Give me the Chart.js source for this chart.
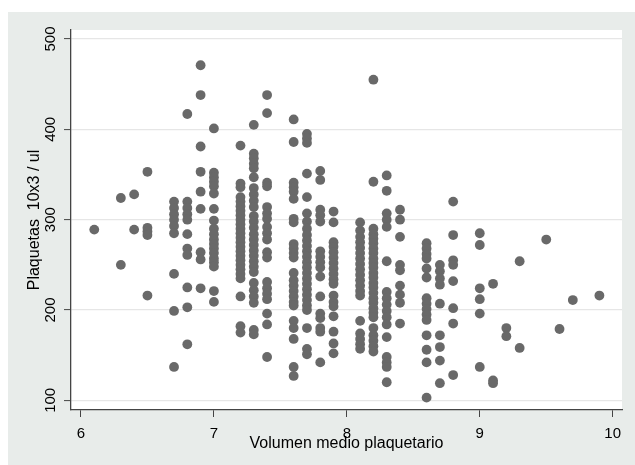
<!DOCTYPE html>
<html>
<head>
<meta charset="utf-8">
<script src="https://cdn.jsdelivr.net/npm/chart.js@4/dist/chart.umd.min.js"></script>
<style>
  html, body { margin: 0; padding: 0; background: #fff; }
  #wrap { position: absolute; left: 0; top: 0; width: 635px; height: 465px; }
</style>
</head>
<body>
<div id="wrap"><canvas id="chart" width="635" height="465"></canvas></div>
<script>
// Volumen medio plaquetario (x) and the platelet counts
const volumen = [6.1, 6.3, 6.4, 6.5, 6.7, 6.8, 6.9, 7.0, 7.2, 7.3, 7.4, 7.6, 7.7, 7.8, 7.9,
  8.1, 8.2, 8.3, 8.4, 8.6, 8.7, 8.8, 9.0, 9.1, 9.2, 9.3, 9.5, 9.6, 9.7, 9.9];
const plaquetas = [
  [289],
  [324, 250],
  [328, 289],
  [353, 291, 287, 283, 216],
  [320, 313, 306, 300, 293, 285, 240, 199, 137],
  [417, 320, 313, 306, 300, 284, 268, 261, 225, 203, 162],
  [471, 438, 381, 353, 331, 312, 264, 256, 224],
  [401, 352, 347, 342, 337, 329, 312, 299, 290, 284, 278, 273, 268, 263, 257, 253, 248, 221, 209],
  [382, 340, 336, 325, 320, 315, 310, 305, 300, 295, 290, 285, 280, 275, 270, 265, 260, 255, 250, 245, 240, 235, 215, 182, 175],
  [405, 373, 368, 362, 357, 347, 335, 328, 321, 314, 304, 298, 291, 284, 278, 272, 266, 260, 254, 248, 242, 230, 222, 215, 208, 178, 173],
  [438, 418, 341, 337, 314, 307, 301, 292, 285, 278, 264, 258, 231, 224, 218, 212, 196, 184, 148],
  [411, 386, 341, 336, 331, 323, 301, 297, 273, 268, 263, 258, 241, 233, 227, 221, 215, 209, 205, 188, 180, 168, 137, 127],
  [395, 390, 385, 351, 325, 307, 298, 290, 283, 277, 271, 265, 259, 253, 247, 241, 235, 229, 223, 217, 211, 205, 200, 180, 157, 151],
  [354, 344, 311, 305, 298, 265, 259, 253, 247, 237, 215, 196, 191, 180, 176, 142],
  [309, 297, 275, 270, 264, 258, 252, 246, 240, 234, 229, 216, 209, 204, 193, 176, 163, 152],
  [297, 288, 281, 275, 269, 263, 257, 251, 245, 239, 233, 227, 221, 216, 188, 174, 168, 162, 157],
  [455, 342, 290, 284, 279, 274, 268, 263, 257, 252, 247, 241, 236, 230, 225, 219, 213, 208, 202, 197, 192, 180, 172, 166, 160, 154],
  [349, 332, 307, 300, 292, 254, 220, 213, 206, 199, 192, 184, 170, 148, 142, 137, 120],
  [311, 300, 281, 250, 244, 227, 217, 208, 185],
  [274, 268, 262, 257, 246, 236, 213, 207, 201, 195, 189, 172, 156, 142, 103],
  [250, 243, 235, 228, 207, 172, 159, 144, 119],
  [320, 283, 255, 250, 232, 202, 185, 128],
  [285, 272, 224, 212, 196, 137],
  [229, 122, 119],
  [180, 171],
  [254, 158],
  [278],
  [179],
  [211],
  [216]
];
const xTicks = [6, 7, 8, 9, 10];
const yTicks = [100, 200, 300, 400, 500];

const points = [];
volumen.forEach((v, i) => plaquetas[i].forEach(p => points.push({ x: v, y: p })));

// grey outer region + white plot region (Stata look)
const background = {
  id: 'background',
  beforeDraw(chart) {
    const { ctx, chartArea: a } = chart;
    ctx.save();
    ctx.fillStyle = '#fff';
    ctx.fillRect(0, 0, chart.width, chart.height);
    ctx.fillStyle = '#e8ecea';
    ctx.fillRect(8, 12, chart.width - 8, chart.height - 12);
    ctx.fillStyle = '#fff';
    ctx.fillRect(a.left, a.top, a.right - a.left, a.bottom - a.top);
    ctx.restore();
  }
};

const font = { family: '"Liberation Sans", Arial, sans-serif', size: 15 };
const titleFont = { family: '"Liberation Sans", Arial, sans-serif', size: 16 };

new Chart(document.getElementById('chart'), {
  type: 'scatter',
  data: {
    datasets: [{
      data: points,
      backgroundColor: '#696969',
      borderWidth: 0,
      pointRadius: 4.9,
      pointHoverRadius: 4.9
    }]
  },
  options: {
    responsive: false,
    animation: false,
    layout: { padding: { top: 30, right: 13, left: 0, bottom: 0 } },
    plugins: { legend: { display: false }, tooltip: { enabled: false } },
    scales: {
      x: {
        type: 'linear',
        min: 5.925,
        max: 10.07,
        afterBuildTicks: s => { s.ticks = xTicks.map(v => ({ value: v })); },
        afterFit: s => { s.height = 55; },
        grid: { drawOnChartArea: false, tickLength: 7, tickColor: '#444', tickWidth: 1 },
        border: { color: '#444', width: 1.3 },
        ticks: { color: '#000', font, padding: 8, maxRotation: 0 },
        title: { display: true, text: 'Volumen medio plaquetario', color: '#000', font: titleFont, padding: { top: 0, bottom: 12 } }
      },
      y: {
        type: 'linear',
        min: 89.3,
        max: 510,
        afterBuildTicks: s => { s.ticks = yTicks.map(v => ({ value: v })); },
        afterFit: s => { s.width = 71; },
        grid: { color: '#e6e6e6', lineWidth: 1.2, tickLength: 7, tickColor: '#444', tickWidth: 1 },
        border: { color: '#444', width: 1.3 },
        ticks: { color: '#000', font, padding: 1, minRotation: 90, maxRotation: 90, crossAlign: 'center' },
        title: { display: true, text: 'Plaquetas  10x3 / ul', color: '#000', font: titleFont, padding: { top: 25, bottom: 0 } }
      }
    }
  },
  plugins: [background]
});
</script>
</body>
</html>
